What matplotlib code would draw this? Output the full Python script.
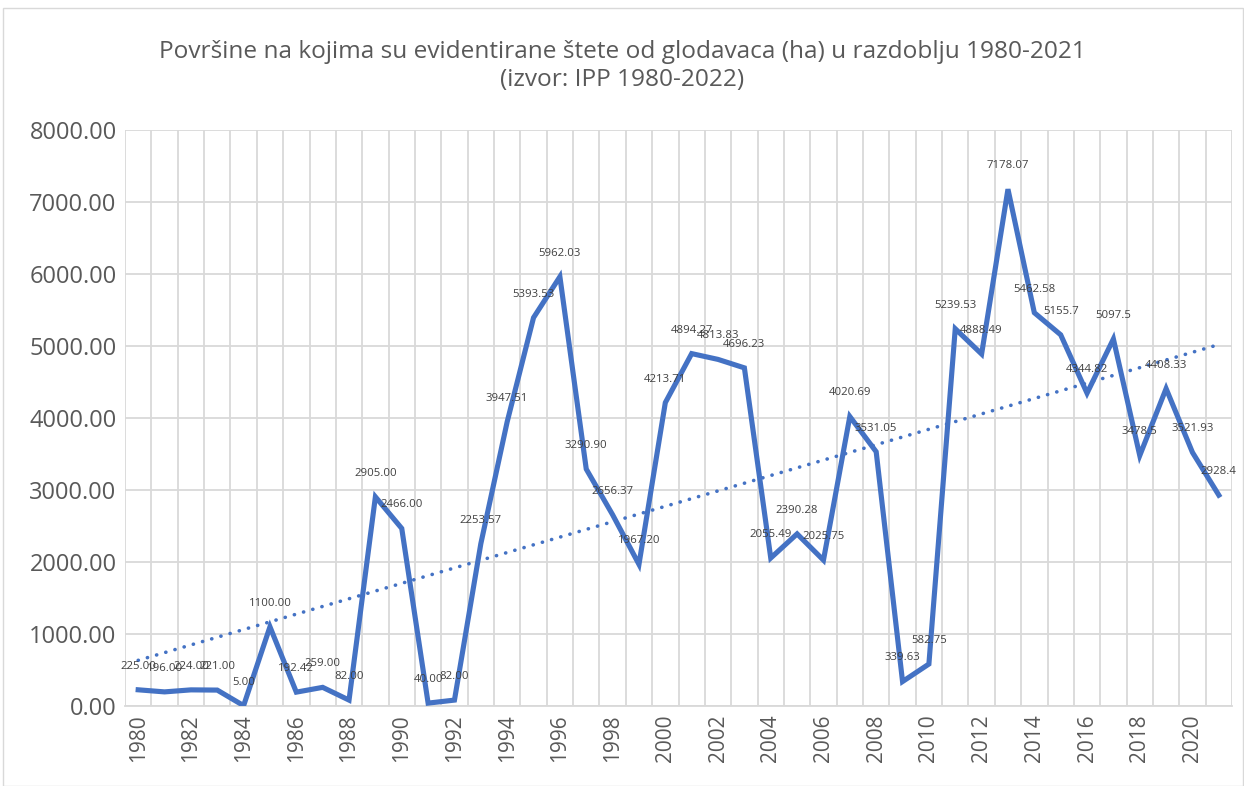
import numpy as np
import matplotlib
matplotlib.use("Agg")
import matplotlib.pyplot as plt
from matplotlib.patches import Rectangle

years = list(range(1980, 2022))
values = [225.00, 196.00, 224.00, 221.00, 5.00, 1100.00, 192.42, 259.00, 82.00,
          2905.00, 2466.00, 40.00, 82.00, 2253.57, 3947.51, 5393.53, 5962.03,
          3290.90, 2656.37, 1967.20, 4213.71, 4894.27, 4813.83, 4696.23, 2055.49,
          2390.28, 2025.75, 4020.69, 3531.05, 339.63, 582.75, 5239.53, 4888.49,
          7178.07, 5462.58, 5155.7, 4344.82, 5097.5, 3478.5, 4408.33, 3521.93, 2928.4]
labels = ["225.00", "196.00", "224.00", "221.00", "5.00", "1100.00", "192.42", "259.00", "82.00",
          "2905.00", "2466.00", "40.00", "82.00", "2253.57", "3947.51", "5393.53", "5962.03",
          "3290.90", "2656.37", "1967.20", "4213.71", "4894.27", "4813.83", "4696.23", "2055.49",
          "2390.28", "2025.75", "4020.69", "3531.05", "339.63", "582.75", "5239.53", "4888.49",
          "7178.07", "5462.58", "5155.7", "4344.82", "5097.5", "3478.5", "4408.33", "3521.93", "2928.4"]
title = "Površine na kojima su evidentirane štete od glodavaca (ha) u razdoblju 1980-2021\n(izvor: IPP 1980-2022)"

plt.rcParams['font.family'] = ['Open Sans', 'DejaVu Sans']
W, H = 1244, 786
fig = plt.figure(figsize=(W / 100, H / 100), dpi=100)
fig.patches.append(Rectangle((3 / W, 0), 1 - 4 / W, 1 - 8 / H, transform=fig.transFigure,
                             fill=False, edgecolor="#d9d9d9", linewidth=1))
ax = fig.add_axes([125 / W, 1 - 706 / H, (1232 - 125) / W, (706 - 130) / H])

x = np.arange(len(years))
blue = "#4472C4"
ax.plot(x, values, color=blue, linewidth=3.7, solid_joinstyle="miter", zorder=3)
coef = np.polyfit(x, values, 1)
ax.plot(x, np.polyval(coef, x), color=blue, linewidth=2.6, linestyle=(0, (0.05, 2.6)),
        dash_capstyle="round", zorder=2)

for xi, v, lab in zip(x, values, labels):
    ax.annotate(lab, (xi, v), xytext=(0, 13), textcoords="offset points",
                ha="center", va="bottom", fontsize=8.2, color="#404040", zorder=4)

ax.set_xlim(-0.5, len(years) - 0.5)
ax.set_ylim(0, 8000)
ax.set_yticks(np.arange(0, 8001, 1000))
ax.set_yticklabels([f"{t:.2f}" for t in np.arange(0, 8001, 1000)])
ax.set_xticks(x[::2])
ax.set_xticklabels([str(y) for y in years[::2]], rotation=90)
ax.set_xticks(np.arange(-0.5, len(years), 1), minor=True)
ax.grid(True, which="minor", axis="x", color="#d9d9d9", linewidth=1.3)
ax.grid(True, which="major", axis="y", color="#d9d9d9", linewidth=1.3)
ax.set_axisbelow(True)
for s in ["top", "right", "left"]:
    ax.spines[s].set_visible(False)
ax.spines["bottom"].set_color("#d9d9d9")
ax.spines["bottom"].set_linewidth(1.3)
ax.tick_params(axis="both", which="both", length=0, colors="#595959")
ax.tick_params(axis="y", labelsize=17, pad=6)
ax.tick_params(axis="x", labelsize=15, pad=6)

fig.text(0.5, 1 - 66 / H, title, ha="center", va="center", fontsize=17.6,
         color="#595959", linespacing=1.25)

fig.savefig("out.png", dpi=100)
